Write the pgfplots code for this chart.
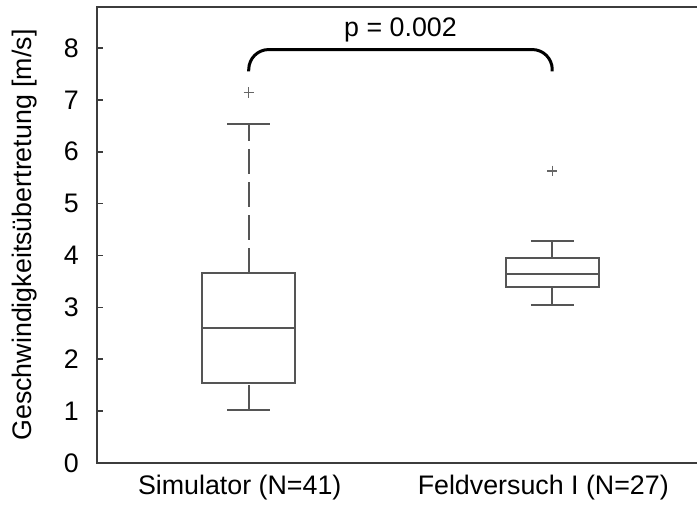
\documentclass[border=0pt]{standalone}
\usepackage{fontspec}
\setmainfont{Liberation Sans}
\usepackage{pgfplots}
\pgfplotsset{compat=1.18}
\usepgfplotslibrary{statistics}
\definecolor{boxgray}{RGB}{85,85,85}
\definecolor{axgray}{RGB}{60,60,60}

\pgfplotsset{
  mybox/.style={
    boxgray, line width=1pt, solid,
    mark=+, mark size=2.6pt, mark options={solid, line width=0.7pt, boxgray!90},
    boxplot/draw direction=y,
    boxplot/box extend=0.306,
    boxplot/draw/lower whisker/.code={%
      \draw[boxgray, line width=1pt, dash pattern=on 12.5pt off 4pt]
        (boxplot box cs:\pgfplotsboxplotvalue{lower whisker},0.5) --
        (boxplot box cs:\pgfplotsboxplotvalue{lower quartile},0.5);
      \draw[boxgray, line width=1pt]
        (boxplot box cs:\pgfplotsboxplotvalue{lower whisker},0.27) --
        (boxplot box cs:\pgfplotsboxplotvalue{lower whisker},0.73);
    },
    boxplot/draw/upper whisker/.code={%
      \draw[boxgray, line width=1pt, dash pattern=on 12.5pt off 4pt]
        (boxplot box cs:\pgfplotsboxplotvalue{upper quartile},0.5) --
        (boxplot box cs:\pgfplotsboxplotvalue{upper whisker},0.5);
      \draw[boxgray, line width=1pt]
        (boxplot box cs:\pgfplotsboxplotvalue{upper whisker},0.27) --
        (boxplot box cs:\pgfplotsboxplotvalue{upper whisker},0.73);
    },
  },
}

\begin{document}
\fontsize{13.4}{16}\selectfont
\begin{tikzpicture}
\useasboundingbox (-48.5pt,-22.5pt) rectangle (300pt,231.5pt);
\clip (-48.5pt,-22.5pt) rectangle (300pt,231.5pt);
\begin{pgfinterruptboundingbox}
\begin{axis}[
  at={(0,0)}, anchor=south west,
  scale only axis, width=303.5pt, height=228pt,
  xmin=0.5, xmax=2.5, ymin=0, ymax=8.79,
  xtick={1,2}, xticklabels={Simulator (N=41), Feldversuch I (N=27)},
  ytick={0,1,...,8},
  major x tick style={draw=none},
  tick align=inside, major tick length=3pt,
  axis line style={line width=1pt, draw=axgray},
  y tick style={line width=0.8pt, draw=axgray},
  /pgf/number format/assume math mode=true,
  yticklabel style={xshift=-4.5pt},
  xticklabel style={anchor=center, yshift=-12.5pt, xshift=-4.5pt},
  ylabel={Geschwindigkeitsübertretung [m/s]},
  every axis y label/.style={at={(axis description cs:-0.1186,0.5)}, rotate=90, anchor=center},
]

% Simulator
\addplot[mybox, boxplot prepared={draw position=1,
    median=2.61, upper quartile=3.67, lower quartile=1.55,
    upper whisker=6.53, lower whisker=1.03}]
  table[row sep=\\, y index=0] {data\\ 7.14\\};

% Feldversuch I
\addplot[mybox, boxplot prepared={draw position=2,
    median=3.65, upper quartile=3.96, lower quartile=3.40,
    upper whisker=4.28, lower whisker=3.04}]
  table[row sep=\\, y index=0] {data\\ 5.63\\};

% significance bracket
\addplot[black, line width=1.5pt, rounded corners=10pt, no marks]
  coordinates {(1,7.55) (1,7.97) (2,7.97) (2,7.55)};
\node at (axis cs:1.5,8.34) {p = 0.002};

\end{axis}
\end{pgfinterruptboundingbox}
\end{tikzpicture}
\end{document}
